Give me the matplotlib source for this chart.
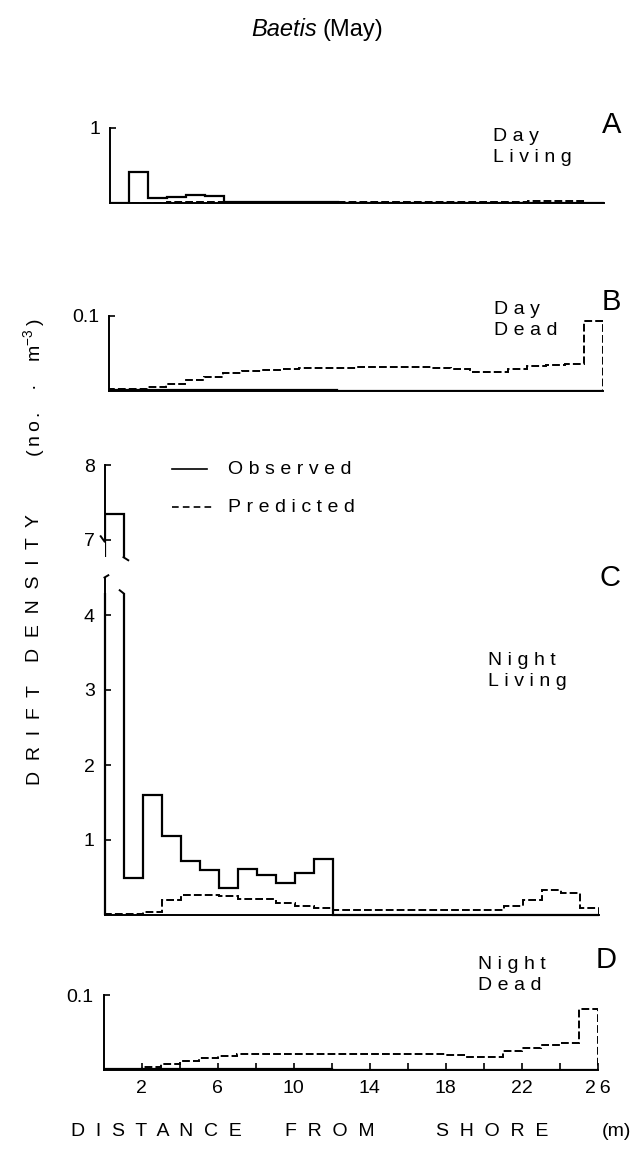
import numpy as np
import matplotlib
matplotlib.use("Agg")
import matplotlib.pyplot as plt
from matplotlib.lines import Line2D
from matplotlib.patches import Rectangle

plt.rcParams['font.family'] = ['Liberation Sans', 'DejaVu Sans']
plt.rcParams['mathtext.fontset'] = 'custom'
plt.rcParams['mathtext.rm'] = 'Liberation Sans'

# distance from shore, 1 m bins 0..26
edges = np.arange(0, 27)

# A  day, living
day_living_obs = [0.0, 0.42, 0.07, 0.08, 0.11, 0.10, 0.02, 0.02, 0.02, 0.02, 0.01, 0.01,
                  0, 0, 0, 0, 0, 0, 0, 0, 0, 0, 0, 0, 0, 0]
day_living_pred = [0.004, 0.004, 0.006, 0.01, 0.012, 0.014, 0.018, 0.018, 0.018, 0.018, 0.014, 0.013,
                   0.012, 0.012, 0.012, 0.012, 0.012, 0.012, 0.012, 0.012, 0.012, 0.015, 0.025, 0.025, 0.025, 0.0]

# B  day, dead
day_dead_obs = [0.002] * 12 + [0] * 14
day_dead_pred = [0.003, 0.003, 0.005, 0.010, 0.015, 0.019, 0.024, 0.027, 0.028, 0.030, 0.031, 0.031,
                 0.031, 0.032, 0.032, 0.032, 0.032, 0.031, 0.029, 0.026, 0.026, 0.030, 0.034, 0.035, 0.036, 0.093]

# C  night, living
night_living_obs = [7.35, 0.5, 1.6, 1.05, 0.72, 0.6, 0.36, 0.62, 0.53, 0.43, 0.56, 0.75,
                    0, 0, 0, 0, 0, 0, 0, 0, 0, 0, 0, 0, 0, 0]
night_living_pred = [0.01, 0.01, 0.04, 0.2, 0.27, 0.27, 0.26, 0.22, 0.21, 0.16, 0.12, 0.1,
                     0.07, 0.07, 0.07, 0.07, 0.07, 0.07, 0.07, 0.07, 0.07, 0.12, 0.2, 0.33, 0.3, 0.1]

# D  night, dead
night_dead_obs = [0.002] * 12 + [0] * 14
night_dead_pred = [0.002, 0.002, 0.004, 0.008, 0.012, 0.016, 0.019, 0.022, 0.022, 0.022, 0.022, 0.022,
                   0.022, 0.022, 0.022, 0.022, 0.022, 0.022, 0.02, 0.018, 0.018, 0.025, 0.03, 0.034, 0.036, 0.082]

xticks = np.arange(2, 27, 2)
xticklabels = ['2', '', '6', '', '10', '', '14', '', '18', '', '22', '', '2\u20096']

W, H = 640, 1149
fig = plt.figure(figsize=(W / 100, H / 100), dpi=100)


def box(left, top, bottom, width=494):
    return [left / W, 1 - bottom / H, width / W, (bottom - top) / H]


def px(x, y):
    return x / W, 1 - y / H


def spaced(s, gap='\u2009\u200a'):
    return gap.join(s)


obs_kw = dict(color='black', lw=1.6, baseline=0, fill=False)
pred_kw = dict(color='black', lw=1.4, baseline=0, fill=False, linestyle=(0, (4, 1.6)))
tick_kw = dict(direction='in', length=4, width=1.2, labelsize=14, pad=7)


def setup(ax, ylim, yticks, ylabels):
    ax.set_xlim(0, 26)
    ax.set_ylim(*ylim)
    for s in ('top', 'right'):
        ax.spines[s].set_visible(False)
    ax.spines['left'].set_linewidth(1.4)
    ax.spines['bottom'].set_linewidth(1.4)
    ax.set_xticks([])
    ax.set_yticks(yticks)
    ax.set_yticklabels(ylabels)
    ax.tick_params(axis='y', **tick_kw)
    ax.patch.set_alpha(0)


# panel A
ax_a = fig.add_axes(box(110, 128, 203))
setup(ax_a, (0, 1), [1], ['1'])
ax_a.stairs(day_living_pred, edges, **pred_kw)
ax_a.stairs(day_living_obs, edges, **obs_kw)

# panel B
ax_b = fig.add_axes(box(109, 316, 391))
setup(ax_b, (0, 0.1), [0.1], ['0.1'])
ax_b.stairs(day_dead_pred, edges, **pred_kw)
ax_b.stairs(day_dead_obs, edges, **obs_kw)

# panel C, broken axis
ax_cu = fig.add_axes(box(104.5, 461.25, 562.5))
setup(ax_cu, (6.7, 8.05), [7, 8], ['7', '8'])
ax_cu.spines['bottom'].set_visible(False)
ax_cu.spines['left'].set_bounds(6.98, 8)
st = ax_cu.stairs(night_living_obs, edges, **obs_kw)
st.set_clip_path(Rectangle((0.03, 6.77), 30, 5, transform=ax_cu.transData))

ax_cl = fig.add_axes(box(104.5, 573.75, 915))
setup(ax_cl, (0, 4.55), [1, 2, 3, 4], ['1', '2', '3', '4'])
ax_cl.spines['left'].set_bounds(0, 4.5)
ax_cl.stairs(night_living_pred, edges, **pred_kw)
st = ax_cl.stairs(night_living_obs, edges, **obs_kw)
st.set_clip_path(Rectangle((-1, -1), 30, 5.29, transform=ax_cl.transData))

# break marks
ax_cu.plot([0, -0.2], [6.98, 7.05], color='black', lw=1.4, clip_on=False)
ax_cu.plot([1, 1.25], [6.77, 6.73], color='black', lw=1.4, clip_on=False)
ax_cl.plot([0, 0.2], [4.5, 4.53], color='black', lw=1.4, clip_on=False)
ax_cl.plot([1, 0.8], [4.29, 4.33], color='black', lw=1.4, clip_on=False)

# panel D
ax_d = fig.add_axes(box(103.5, 995, 1070))
setup(ax_d, (0, 0.1), [0.1], ['0.1'])
ax_d.stairs(night_dead_pred, edges, **pred_kw)
ax_d.stairs(night_dead_obs, edges, **obs_kw)
ax_d.set_xticks(xticks)
ax_d.set_xticklabels(xticklabels)
ax_d.tick_params(axis='x', direction='in', length=5, width=1.2, labelsize=14, pad=7)

# panel texts
txt_kw = dict(fontsize=14, va='center', ha='left', linespacing=1.3)
fig.text(*px(493, 147), spaced('Day') + '\n' + spaced('Living'), **txt_kw)
fig.text(*px(494, 320), spaced('Day') + '\n' + spaced('Dead'), **txt_kw)
fig.text(*px(488, 671), spaced('Night') + '\n' + spaced('Living'), **txt_kw)
fig.text(*px(478, 975), spaced('Night') + '\n' + spaced('Dead'), **txt_kw)

big_kw = dict(fontsize=21, va='center', ha='center')
fig.text(*px(612, 125), 'A', **big_kw)
fig.text(*px(611, 302), 'B', **big_kw)
fig.text(*px(610, 578), 'C', **big_kw)
fig.text(*px(606, 960), 'D', **big_kw)

# legend
fig.add_artist(Line2D([172 / W, 207 / W], [1 - 469 / H] * 2, color='black', lw=1.2))
fig.add_artist(Line2D([172 / W, 213 / W], [1 - 507 / H] * 2, color='black', lw=1.2,
                      linestyle=(0, (4, 2.5))))
fig.text(*px(228, 469), spaced('Observed'), fontsize=14, va='center', ha='left')
fig.text(*px(228, 507), spaced('Predicted'), fontsize=14, va='center', ha='left')

# title
fig.text(*px(317, 30), 'Baetis', fontsize=17, style='italic', ha='right', va='center')
fig.text(*px(322, 30), '(May)', fontsize=17, ha='left', va='center')

# axis labels
lab_kw = dict(fontsize=14, ha='center', va='center')
fig.text(*px(156, 1132), spaced('DISTANCE', '  '), **lab_kw)
fig.text(*px(330, 1132), spaced('FROM', '  '), **lab_kw)
fig.text(*px(492, 1132), spaced('SHORE', '  '), **lab_kw)
fig.text(*px(616, 1132), '(m)', **lab_kw)

fig.text(*px(35, 735), spaced('DRIFT', '  '), rotation=90, **lab_kw)
fig.text(*px(35, 588), spaced('DENSITY', '  '), rotation=90, **lab_kw)
fig.text(*px(35, 388), '(\u2009n\u2009o\u2009.    \u00b7    m$^{-3}$\u2009)', rotation=90, **lab_kw)

fig.savefig('out.png', dpi=100)
